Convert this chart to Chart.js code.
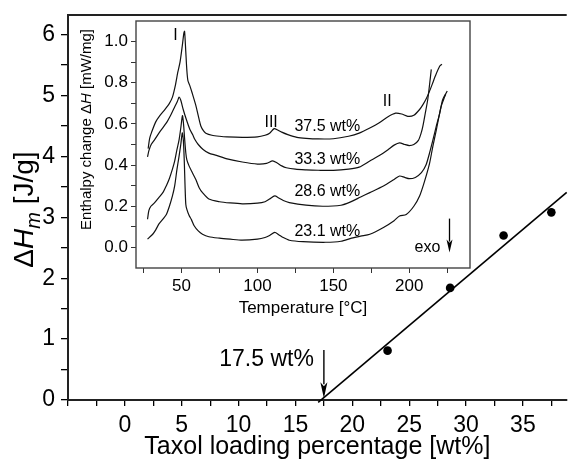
<!DOCTYPE html>
<html>
<head>
<meta charset="utf-8">
<title>Melting enthalpy vs taxol loading</title>
<script src="https://cdn.jsdelivr.net/npm/chart.js@4/dist/chart.umd.min.js"></script>
<style>
    html, body { margin: 0; padding: 0; background: #fff; }
    #wrap { position: relative; width: 571px; height: 464px; overflow: hidden; }
    #wrap canvas { position: absolute; top: 0; display: block; }
    #main { left: 0; }
    #inset { left: 60px; }
</style>
</head>
<body>
<div id="wrap">
    <canvas id="main" width="571" height="464"></canvas>
    <canvas id="inset" width="440" height="330"></canvas>
</div>
<script>
// ---- main plot: melting enthalpy vs loading ----
const loading = [23.1, 28.6, 33.3, 37.5];
const enthalpy = [0.81, 1.84, 2.70, 3.08];
const fitX = [17.0, 38.85];
const fitY = [-0.04, 3.41];
const onsetLabel = '17.5 wt%';
const onsetLabelPos = [12.46, 0.66];
const onsetArrow = [17.5, 0.82, 0.03];   // x, from y, to y

// ---- inset: DSC curves (temperature in C, enthalpy change in mW/mg) ----
const t375 = [28, 29, 30.3, 33, 35.7, 39, 42, 44, 46, 47.5, 49, 50.5, 51.5, 52, 52.8, 53.5, 54.2, 55.5, 57, 59.4,
    61, 62.7, 64.5, 66, 70, 75, 80, 90, 100, 105, 108, 111, 113, 116, 120, 126, 132, 140, 150, 160,
    167, 174, 180, 186, 191, 195, 199, 203, 206.8, 209, 211, 213.3, 215.5, 217, 220, 221.5];
const h375 = [0.48, 0.53, 0.56, 0.61, 0.64, 0.67, 0.70, 0.73, 0.79, 0.85, 0.90, 0.98, 1.04, 1.05, 0.95, 0.86, 0.81, 0.785, 0.75, 0.69,
    0.64, 0.59, 0.566, 0.555, 0.545, 0.54, 0.537, 0.535, 0.537, 0.545, 0.555, 0.577, 0.572, 0.56, 0.548, 0.535, 0.53, 0.527, 0.528, 0.54,
    0.555, 0.58, 0.605, 0.635, 0.652, 0.648, 0.637, 0.642, 0.67, 0.694, 0.72, 0.758, 0.8, 0.83, 0.88, 0.89];

const t333 = [27.6, 28.5, 30, 32.4, 36, 40, 43, 45.6, 47.3, 48.4, 49.5, 51.1, 53, 55.5, 57.2, 58.8, 61, 64.2, 68, 73,
    80, 90, 100, 106, 110, 113, 116, 119, 125, 132, 140, 150, 160, 167, 174, 180, 186, 190, 193.6, 197,
    200, 203, 206, 208, 209, 210.5, 212.2, 213.5, 214.5];
const h333 = [0.44, 0.47, 0.50, 0.525, 0.565, 0.605, 0.645, 0.685, 0.71, 0.73, 0.715, 0.67, 0.625, 0.573, 0.55, 0.524, 0.50, 0.476, 0.458, 0.447,
    0.43, 0.415, 0.405, 0.408, 0.42, 0.41, 0.396, 0.387, 0.38, 0.377, 0.375, 0.374, 0.38, 0.39, 0.42, 0.445, 0.475, 0.497, 0.508, 0.5,
    0.495, 0.5, 0.52, 0.56, 0.59, 0.65, 0.72, 0.8, 0.865];

const t286 = [27.6, 28.5, 29.8, 32, 35, 38, 40, 42, 44, 45.5, 47, 48.4, 49.5, 50.6, 51.3, 52, 52.8, 53.5, 55, 57,
    59.4, 61.6, 63.8, 68, 75, 82, 90, 100, 105, 108, 111.4, 114, 117, 121, 132, 143, 155, 161, 168, 174,
    183, 190, 193.6, 197, 200, 204, 208, 211, 213.4, 215.5, 217.8, 220, 222, 224.3, 225];
const h286 = [0.137, 0.18, 0.2, 0.215, 0.242, 0.27, 0.3, 0.335, 0.38, 0.42, 0.476, 0.524, 0.58, 0.64, 0.6, 0.53, 0.46, 0.425, 0.395, 0.365,
    0.33, 0.29, 0.266, 0.235, 0.222, 0.216, 0.212, 0.215, 0.222, 0.235, 0.25, 0.24, 0.228, 0.218, 0.205, 0.2, 0.205, 0.22, 0.245, 0.266,
    0.298, 0.33, 0.347, 0.34, 0.334, 0.34, 0.363, 0.4, 0.46, 0.52, 0.589, 0.65, 0.718, 0.75, 0.76];

const t231 = [27.6, 29, 31, 33, 35, 38, 40, 42, 44, 45.5, 47, 48.3, 49.5, 50.5, 51.2, 51.8, 52.3, 52.8, 53.5, 55,
    56.5, 58.3, 61, 63.8, 68, 75, 82, 90, 100, 105, 108, 111.4, 114, 117, 121, 130, 145, 155, 162, 168,
    174, 183, 190, 193.6, 198, 203, 206.8, 210, 213.4, 215.5, 217.8, 221, 223.2, 224];
const h231 = [0.04, 0.05, 0.064, 0.085, 0.113, 0.14, 0.16, 0.2, 0.25, 0.3, 0.38, 0.44, 0.5, 0.557, 0.52, 0.42, 0.3, 0.21, 0.185, 0.155,
    0.135, 0.105, 0.08, 0.064, 0.052, 0.045, 0.04, 0.035, 0.04, 0.048, 0.058, 0.073, 0.062, 0.048, 0.035, 0.028, 0.025, 0.03, 0.045, 0.055,
    0.064, 0.097, 0.13, 0.153, 0.16, 0.2, 0.25, 0.32, 0.41, 0.49, 0.57, 0.685, 0.73, 0.745];

const curveLabels = ['37.5 wt%', '33.3 wt%', '28.6 wt%', '23.1 wt%'];
const curveLabelT = [146, 146, 146, 146];
const curveLabelH = [0.585, 0.425, 0.27, 0.075];
const peakLabels = ['I', 'III', 'II'];
const peakLabelT = [46, 109, 185.5];
const peakLabelH = [1.03, 0.605, 0.71];
const exoLabelPos = [212, 0.0];
const exoArrow = [226.5, 0.14, -0.025];

const FONT = "'Liberation Sans', Arial, Helvetica, sans-serif";

function toPoints(xs, ys) {
    return xs.map((x, i) => ({ x: x, y: ys[i] }));
}

/**
 * Draw a row of differently styled text pieces, centered at (cx, cy)
 */
function drawRichText(ctx, parts, cx, cy, angle) {
    ctx.save();
    ctx.translate(cx, cy);
    ctx.rotate(angle);
    ctx.textAlign = 'left';
    ctx.textBaseline = 'alphabetic';
    ctx.fillStyle = '#000';
    let total = 0;
    parts.forEach(p => {
        ctx.font = `${p.italic ? 'italic ' : ''}${p.size}px ${FONT}`;
        p.w = ctx.measureText(p.text).width;
        total += p.w;
    });
    let x = -total / 2;
    const base = parts[0].size * 0.36;
    parts.forEach(p => {
        ctx.font = `${p.italic ? 'italic ' : ''}${p.size}px ${FONT}`;
        ctx.fillText(p.text, x, base + (p.shift || 0));
        x += p.w;
    });
    ctx.restore();
}

function drawArrow(ctx, x, y1, y2, headLen, headW, lw) {
    ctx.save();
    ctx.strokeStyle = '#000';
    ctx.fillStyle = '#000';
    ctx.lineWidth = lw;
    ctx.beginPath();
    ctx.moveTo(x, y1);
    ctx.lineTo(x, y2 - headLen + 2);
    ctx.stroke();
    ctx.beginPath();
    ctx.moveTo(x, y2);
    ctx.lineTo(x - headW / 2, y2 - headLen);
    ctx.lineTo(x, y2 - headLen * 0.75);
    ctx.lineTo(x + headW / 2, y2 - headLen);
    ctx.closePath();
    ctx.fill();
    ctx.restore();
}

// keep the plot area where the layout padding puts it (no extra room for edge labels)
function noEdgePadding(s) {
    s.paddingTop = 0;
    s.paddingBottom = 0;
    s.paddingLeft = 0;
    s.paddingRight = 0;
}

/**
 * Main chart extras: top frame line, y title, onset annotation
 */
const mainDecor = {
    id: 'mainDecor',
    afterDraw(chart) {
        const ctx = chart.ctx;
        const a = chart.chartArea;
        const xs = chart.scales.x;
        const ys = chart.scales.y;

        ctx.save();
        ctx.strokeStyle = '#222';
        ctx.lineWidth = 2;
        ctx.beginPath();
        ctx.moveTo(a.left, a.top);
        ctx.lineTo(a.right, a.top);
        ctx.stroke();
        ctx.restore();

        drawRichText(ctx, [
            { text: 'Δ', size: 28 },
            { text: 'H', size: 28, italic: true },
            { text: 'm', size: 20, italic: true, shift: 7 },
            { text: ' [J/g]', size: 28 }
        ], 23, (a.top + a.bottom) / 2 + 2, -Math.PI / 2);

        ctx.save();
        ctx.fillStyle = '#000';
        ctx.font = `23px ${FONT}`;
        ctx.textAlign = 'center';
        ctx.textBaseline = 'middle';
        ctx.fillText(onsetLabel, xs.getPixelForValue(onsetLabelPos[0]), ys.getPixelForValue(onsetLabelPos[1]));
        ctx.restore();

        const ax = xs.getPixelForValue(onsetArrow[0]);
        drawArrow(ctx, ax, ys.getPixelForValue(onsetArrow[1]), ys.getPixelForValue(onsetArrow[2]), 16, 7, 1.4);
    }
};

/**
 * Inset extras: full frame, y title, curve labels, exo arrow
 */
const insetDecor = {
    id: 'insetDecor',
    afterDraw(chart) {
        const ctx = chart.ctx;
        const a = chart.chartArea;
        const xs = chart.scales.x;
        const ys = chart.scales.y;

        ctx.save();
        ctx.strokeStyle = '#444';
        ctx.lineWidth = 1.4;
        ctx.strokeRect(a.left, a.top, a.right - a.left, a.bottom - a.top);
        ctx.restore();

        drawRichText(ctx, [
            { text: 'Enthalpy change Δ', size: 15 },
            { text: 'H', size: 15, italic: true },
            { text: ' [mW/mg]', size: 15 }
        ], a.left - 50, (a.top + a.bottom) / 2 - 15, -Math.PI / 2);

        ctx.save();
        ctx.fillStyle = '#000';
        ctx.textAlign = 'center';
        ctx.textBaseline = 'middle';
        ctx.font = `16px ${FONT}`;
        curveLabels.forEach((txt, i) => {
            ctx.fillText(txt, xs.getPixelForValue(curveLabelT[i]), ys.getPixelForValue(curveLabelH[i]));
        });
        peakLabels.forEach((txt, i) => {
            ctx.fillText(txt, xs.getPixelForValue(peakLabelT[i]), ys.getPixelForValue(peakLabelH[i]));
        });
        ctx.fillText('exo', xs.getPixelForValue(exoLabelPos[0]), ys.getPixelForValue(exoLabelPos[1]));
        ctx.restore();

        drawArrow(ctx, xs.getPixelForValue(exoArrow[0]), ys.getPixelForValue(exoArrow[1]),
            ys.getPixelForValue(exoArrow[2]), 13, 6, 1.3);
    }
};

// Main chart
new Chart(document.getElementById('main'), {
    type: 'scatter',
    data: {
        datasets: [
            {
                type: 'scatter',
                data: toPoints(loading, enthalpy),
                pointRadius: 4.3,
                pointBackgroundColor: '#000',
                pointBorderColor: '#000',
                pointBorderWidth: 0
            },
            {
                type: 'line',
                data: toPoints(fitX, fitY),
                borderColor: '#000',
                borderWidth: 1.6,
                pointRadius: 0,
                fill: false,
                clip: 4
            }
        ]
    },
    options: {
        responsive: false,
        animation: false,
        events: [],
        layout: { padding: { top: 15, right: 0, bottom: 0, left: 0 } },
        plugins: { legend: { display: false }, tooltip: { enabled: false } },
        scales: {
            x: {
                type: 'linear',
                min: -5,
                max: 38.85,
                afterFit: s => { s.height = 64; noEdgePadding(s); },
                ticks: {
                    stepSize: 2.5,
                    includeBounds: false,
                    autoSkip: false,
                    maxRotation: 0,
                    padding: 6,
                    color: '#000',
                    font: { family: FONT, size: 23 },
                    callback: v => (v >= 0 && Math.abs(v % 5) < 1e-6) ? String(v) : ''
                },
                grid: { drawOnChartArea: false, drawTicks: true, tickLength: 6, color: '#000', lineWidth: 1.3 },
                border: { display: true, color: '#222', width: 2 },
                title: {
                    display: true,
                    text: 'Taxol loading percentage [wt%]',
                    color: '#000',
                    font: { family: FONT, size: 25 },
                    padding: { top: 0, bottom: 2 }
                }
            },
            y: {
                type: 'linear',
                min: 0,
                max: 6.32,
                afterFit: s => { s.width = 68; noEdgePadding(s); },
                ticks: {
                    stepSize: 0.5,
                    includeBounds: false,
                    autoSkip: false,
                    padding: 6,
                    color: '#000',
                    font: { family: FONT, size: 23 },
                    callback: v => Number.isInteger(v) ? String(v) : ''
                },
                grid: { drawOnChartArea: false, drawTicks: true, tickLength: 7, color: '#000', lineWidth: 1.3 },
                border: { display: true, color: '#222', width: 2 }
            }
        }
    },
    plugins: [mainDecor]
});

// Inset DSC chart
const curveStyle = { type: 'line', borderColor: '#111', borderWidth: 1.2, pointRadius: 0, fill: false, tension: 0.25 };

new Chart(document.getElementById('inset'), {
    type: 'line',
    data: {
        datasets: [
            { ...curveStyle, label: '37.5 wt%', data: toPoints(t375, h375) },
            { ...curveStyle, label: '33.3 wt%', data: toPoints(t333, h333) },
            { ...curveStyle, label: '28.6 wt%', data: toPoints(t286, h286) },
            { ...curveStyle, label: '23.1 wt%', data: toPoints(t231, h231) }
        ]
    },
    options: {
        responsive: false,
        animation: false,
        events: [],
        layout: { padding: { top: 21, right: 30, bottom: 0, left: 0 } },
        plugins: { legend: { display: false }, tooltip: { enabled: false } },
        scales: {
            x: {
                type: 'linear',
                min: 20,
                max: 240,
                afterFit: s => { s.height = 62; noEdgePadding(s); },
                ticks: {
                    stepSize: 25,
                    includeBounds: false,
                    autoSkip: false,
                    maxRotation: 0,
                    padding: 3,
                    color: '#000',
                    font: { family: FONT, size: 17 },
                    callback: v => (v % 50 === 0) ? String(v) : ''
                },
                grid: { drawOnChartArea: false, drawTicks: true, tickLength: 5, color: '#333', lineWidth: 1 },
                border: { display: false },
                title: {
                    display: true,
                    text: 'Temperature [°C]',
                    color: '#000',
                    font: { family: FONT, size: 17 },
                    padding: { top: 0, bottom: 11 }
                }
            },
            y: {
                type: 'linear',
                min: -0.1,
                max: 1.1,
                afterFit: s => { s.width = 76; noEdgePadding(s); },
                afterBuildTicks: s => {
                    s.ticks = s.ticks.filter(t => t.value > -0.09 && t.value < 1.09);
                },
                ticks: {
                    stepSize: 0.1,
                    autoSkip: false,
                    padding: 3,
                    color: '#000',
                    font: { family: FONT, size: 17 },
                    callback: v => (Math.round(v * 10) % 2 === 0) ? (Math.abs(v) < 1e-9 ? '0.0' : v.toFixed(1)) : ''
                },
                grid: { drawOnChartArea: false, drawTicks: true, tickLength: 5, color: '#333', lineWidth: 1 },
                border: { display: false }
            }
        }
    },
    plugins: [insetDecor]
});
</script>
</body>
</html>
